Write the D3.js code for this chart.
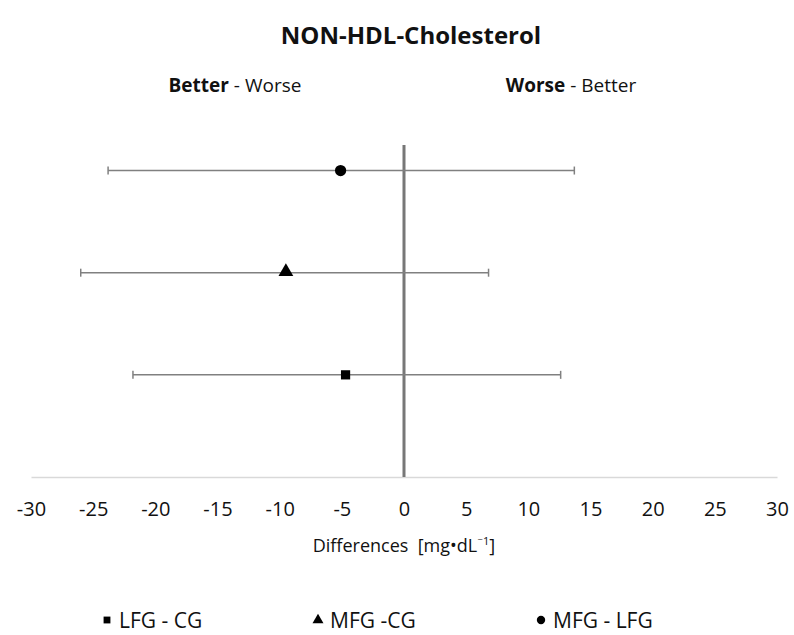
<!DOCTYPE html>
<html>
<head>
<meta charset="utf-8">
<script src="https://cdn.jsdelivr.net/npm/d3@7"></script>
<style>
  body { margin: 0; background: #fff; }
  svg text { font-family: "Open Sans", "DejaVu Sans", sans-serif; fill: #111; }
</style>
</head>
<body>
<div id="chart"></div>
<script>
var width = 794,
	height = 635;

// comparisons, bottom row first
var comparisons = ["LFG - CG", "MFG -CG", "MFG - LFG"];
var means = [-4.7, -9.5, -5.1];
var lower = [-21.8, -26.0, -23.8];
var upper = [12.6, 6.8, 13.7];
var symbols = [d3.symbolSquare, d3.symbolTriangle, d3.symbolCircle];
var symbolSizes = [85, 95, 100];
var xTicks = [-30, -25, -20, -15, -10, -5, 0, 5, 10, 15, 20, 25, 30];

var x = d3.scaleLinear().domain([-30, 30]).range([31, 777]);
var y = d3.scaleLinear().domain([0, 3.25]).range([477, 145]);

var svg = d3.select("#chart").append("svg")
	.attr("width", width)
	.attr("height", height);

// title
svg.append("text")
	.attr("x", 411)
	.attr("y", 44)
	.attr("text-anchor", "middle")
	.style("font-size", "24px")
	.style("font-weight", "bold")
	.text("NON-HDL-Cholesterol");

// Better / Worse labels
var left = svg.append("text").attr("x", 235).attr("y", 92)
	.attr("text-anchor", "middle").style("font-size", "19px");
left.append("tspan").style("font-weight", "bold").text("Better");
left.append("tspan").text(" - Worse");

var right = svg.append("text").attr("x", 571).attr("y", 92)
	.attr("text-anchor", "middle").style("font-size", "19px");
right.append("tspan").style("font-weight", "bold").text("Worse");
right.append("tspan").text(" - Better");

// x axis
var axis = svg.append("g")
	.attr("transform", "translate(0," + y(0) + ")")
	.call(d3.axisBottom(x).tickValues(xTicks).tickSize(0).tickPadding(25)
		.tickFormat(function(d) { return String(d); }));
axis.select(".domain").attr("stroke", "#d9d9d9").attr("stroke-width", 1.5);
axis.selectAll(".tick text")
	.style("font-size", "20px")
	.style("font-family", "'Open Sans', sans-serif")
	.attr("fill", "#111");

svg.append("text")
	.attr("x", 404)
	.attr("y", 552)
	.attr("text-anchor", "middle")
	.style("font-size", "18px")
	.html("Differences&#160; [mg\u2022dL<tspan dy='-7' font-size='11px'>\u207B1</tspan><tspan dy='7'>]</tspan>");

// zero line
svg.append("line")
	.attr("x1", x(0)).attr("x2", x(0))
	.attr("y1", y(3.25)).attr("y2", y(0))
	.attr("stroke", "#777")
	.attr("stroke-width", 3);

// error bars
var rows = svg.selectAll(".row")
	.data(comparisons)
	.enter().append("g")
	.attr("class", "row")
	.attr("transform", function(d, i) { return "translate(0," + y(i + 1) + ")"; });

rows.append("line")
	.attr("x1", function(d, i) { return x(lower[i]); })
	.attr("x2", function(d, i) { return x(upper[i]); })
	.attr("stroke", "#808080")
	.attr("stroke-width", 1.5);

rows.selectAll(".cap")
	.data(function(d, i) { return [lower[i], upper[i]]; })
	.enter().append("line")
	.attr("class", "cap")
	.attr("x1", function(d) { return x(d); })
	.attr("x2", function(d) { return x(d); })
	.attr("y1", -4).attr("y2", 4)
	.attr("stroke", "#808080")
	.attr("stroke-width", 1.5);

rows.append("path")
	.attr("transform", function(d, i) { return "translate(" + x(means[i]) + "," + (i == 1 ? -1 : 0) + ")"; })
	.attr("d", function(d, i) { return d3.symbol().type(symbols[i]).size(symbolSizes[i])(); })
	.attr("fill", "#000");

// legend
var legendX = [107, 318, 541];
var legend = svg.selectAll(".legend")
	.data(comparisons)
	.enter().append("g")
	.attr("class", "legend")
	.attr("transform", function(d, i) { return "translate(" + legendX[i] + ",620)"; });

legend.append("path")
	.attr("d", function(d, i) { return d3.symbol().type(symbols[i]).size(symbolSizes[i] * 0.55)(); })
	.attr("fill", "#000");

legend.append("text")
	.attr("x", 12)
	.attr("y", 7.5)
	.style("font-size", "21px")
	.text(function(d) { return d; });
</script>
</body>
</html>
